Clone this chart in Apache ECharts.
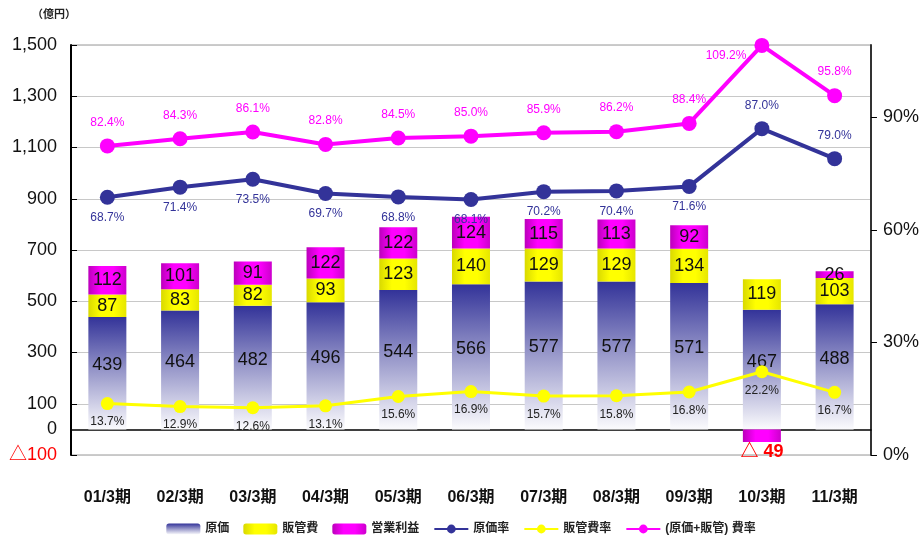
<!DOCTYPE html>
<html>
<head>
<meta charset="utf-8">
<script src="https://cdn.jsdelivr.net/npm/echarts@6/dist/echarts.min.js"></script>
<style>
    html, body { margin: 0; padding: 0; background: #fff; }
    #chart { width: 922px; height: 545px; }
</style>
</head>
<body>
<div id="chart"></div>
<script>
const FONT = "'Liberation Sans', 'Noto Sans CJK JP', sans-serif";

const periods = ['01/3期', '02/3期', '03/3期', '04/3期', '05/3期', '06/3期', '07/3期', '08/3期', '09/3期', '10/3期', '11/3期'];
const cost = [439, 464, 482, 496, 544, 566, 577, 577, 571, 467, 488];
const sga = [87, 83, 82, 93, 123, 140, 129, 129, 134, 119, 103];
const profit = [112, 101, 91, 122, 122, 124, 115, 113, 92, -49, 26];
const costRate = [68.7, 71.4, 73.5, 69.7, 68.8, 68.1, 70.2, 70.4, 71.6, 87.0, 79.0];
const sgaRate = [13.7, 12.9, 12.6, 13.1, 15.6, 16.9, 15.7, 15.8, 16.8, 22.2, 16.7];
const totalRate = [82.4, 84.3, 86.1, 82.8, 84.5, 85.0, 85.9, 86.2, 88.4, 109.2, 95.8];

const chart = echarts.init(document.getElementById('chart'));

const grad = (dir, stops) => new echarts.graphic.LinearGradient(
    0, 0, dir === 'v' ? 0 : 1, dir === 'v' ? 1 : 0,
    stops.map((c, i) => ({offset: i / (stops.length - 1), color: c}))
);

const barLabel = {
    show: true,
    position: 'inside',
    color: '#111',
    fontSize: 18,
    fontFamily: FONT
};

const option = {
    animation: false,
    textStyle: {fontFamily: FONT},
    graphic: [{
        type: 'text',
        left: 32,
        top: 9,
        style: {text: '（億円）', fontSize: 11, fontWeight: 'bold', fill: '#222', fontFamily: FONT}
    }],
    legend: {
        bottom: 5,
        left: 'center',
        itemWidth: 34,
        itemHeight: 11,
        itemGap: 14,
        textStyle: {fontSize: 12, fontWeight: 'bold', color: '#222', fontFamily: FONT},
        data: ['原価', '販管費', '営業利益', '原価率', '販管費率', '(原価+販管) 費率']
    },
    grid: {
        left: 71, right: 49, top: 45, bottom: 90,
        show: true,
        borderColor: '#999',
        borderWidth: 1
    },
    xAxis: {
        type: 'category',
        data: periods,
        axisLine: {onZero: true, onZeroAxisIndex: 0, lineStyle: {color: '#000', width: 1.5}},
        axisTick: {inside: true, length: 5, lineStyle: {color: '#000'}},
        axisLabel: {margin: 35, fontSize: 16, fontWeight: 'bold', color: '#111', fontFamily: FONT}
    },
    yAxis: [
        {
            // data axis (only the 0 label shown)
            type: 'value', min: -100, max: 1500, interval: 100,
            axisLine: {show: true, lineStyle: {color: '#000', width: 2}},
            axisTick: {show: false},
            splitLine: {show: false},
            axisLabel: {
                margin: 14, fontSize: 18, color: '#111',
                formatter: v => v === 0 ? '0' : ''
            }
        },
        {
            type: 'value', min: 0, max: 109.3, interval: 30, position: 'right',
            axisLine: {show: true, lineStyle: {color: '#333', width: 2}},
            axisTick: {show: true, length: 6, lineStyle: {color: '#000'}},
            splitLine: {show: false},
            axisLabel: {
                margin: 12, fontSize: 18, color: '#111', showMaxLabel: false,
                formatter: v => v + '%'
            }
        },
        {
            // shifted axis for odd-hundred ticks and grid lines
            type: 'value', min: 0, max: 1600, interval: 200, position: 'left',
            axisLine: {show: false},
            axisTick: {show: true, inside: true, length: 6, lineStyle: {color: '#000'}},
            splitLine: {show: true, lineStyle: {color: '#c8c8c8'}},
            axisLabel: {
                margin: 14, fontSize: 18, color: '#111',
                formatter: v => v === 0 ? '{r|△100}' : (v - 100).toLocaleString('en-US'),
                rich: {r: {color: '#ff0000', fontSize: 18, fontFamily: FONT}}
            }
        }
    ],
    series: [
        {
            name: '原価', type: 'bar', stack: 'amt', barWidth: 38,
            itemStyle: {color: grad('v', ['#333399', '#9a9acb', '#fbfbfd'])},
            label: Object.assign({}, barLabel, {offset: [0, -8]}),
            data: cost
        },
        {
            name: '販管費', type: 'bar', stack: 'amt', barWidth: 38,
            itemStyle: {color: grad('h', ['#d9d900', '#ffff00', '#ffff00', '#e6e600'])},
            label: barLabel,
            data: sga
        },
        {
            name: '営業利益', type: 'bar', stack: 'amt', barWidth: 38,
            itemStyle: {color: grad('h', ['#bb00bb', '#ff00ff', '#ff00ff', '#cc00cc'])},
            label: barLabel,
            data: profit.map(v => v < 0 ? {
                value: v,
                label: {position: 'bottom', distance: 1, color: '#ff0000', fontSize: 18, fontWeight: 'bold', formatter: p => '△ ' + Math.abs(p.value)}
            } : v)
        },
        {
            name: '原価率', type: 'line', yAxisIndex: 1, z: 5,
            symbol: 'circle', symbolSize: 15,
            lineStyle: {color: '#333399', width: 4},
            itemStyle: {color: '#333399'},
            label: {show: true, position: 'bottom', distance: 7, color: '#333399', fontSize: 12, formatter: p => p.value.toFixed(1) + '%'},
            data: costRate.map((v, i) => i >= 9 ? {value: v, label: {position: 'top', distance: 9}} : v)
        },
        {
            name: '販管費率', type: 'line', yAxisIndex: 1, z: 5,
            symbol: 'circle', symbolSize: 13,
            lineStyle: {color: '#ffff00', width: 3},
            itemStyle: {color: '#ffff00'},
            label: {show: true, position: 'bottom', distance: 6, color: '#222', fontSize: 12, formatter: p => p.value.toFixed(1) + '%'},
            data: sgaRate
        },
        {
            name: '(原価+販管) 費率', type: 'line', yAxisIndex: 1, z: 6,
            symbol: 'circle', symbolSize: 15,
            lineStyle: {color: '#ff00ff', width: 4},
            itemStyle: {color: '#ff00ff'},
            label: {show: true, position: 'top', distance: 10, color: '#ff00ff', fontSize: 12, formatter: p => p.value.toFixed(1) + '%'},
            data: totalRate.map((v, i) => i === 9 ? {value: v, label: {position: 'left', offset: [2, 10]}} : v)
        }
    ]
};

chart.setOption(option);
</script>
</body>
</html>
